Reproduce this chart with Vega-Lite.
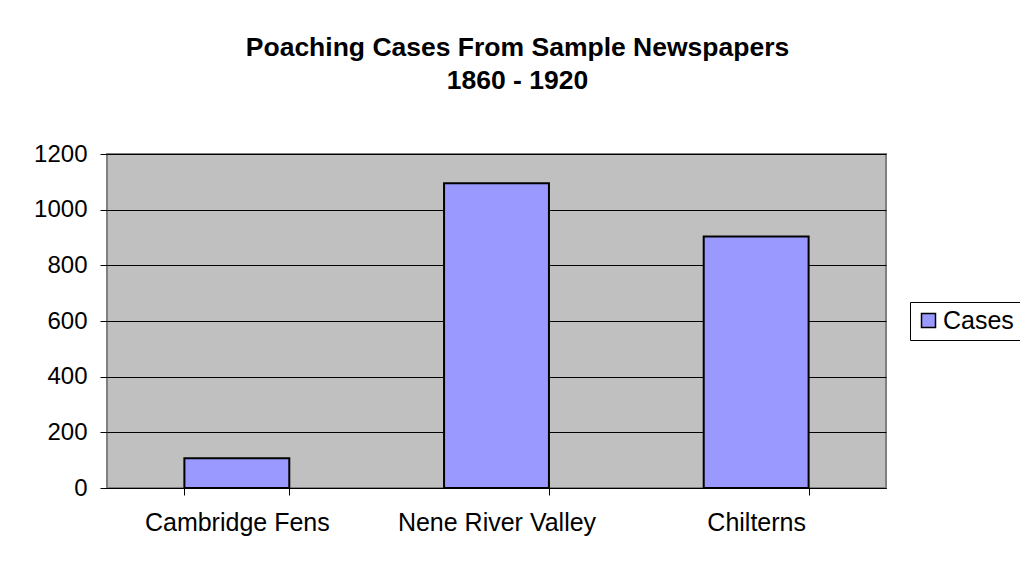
{
  "$schema": "https://vega.github.io/schema/vega-lite/v6.json",
  "autosize": "none",
  "width": 779,
  "height": 334,
  "padding": {"left": 107, "top": 154, "right": 134, "bottom": 74},
  "background": "white",
  "title": {
    "text": ["Poaching Cases From Sample Newspapers", "1860 - 1920"],
    "font": "Liberation Sans",
    "fontSize": 26.5,
    "fontWeight": "bold",
    "color": "black",
    "lineHeight": 33,
    "anchor": "middle",
    "dx": 21,
    "offset": 48
  },
  "data": {
    "values": [
      {"region": "Cambridge Fens", "cases": 107, "series": "Cases"},
      {"region": "Nene River Valley", "cases": 1095, "series": "Cases"},
      {"region": "Chilterns", "cases": 904, "series": "Cases"}
    ]
  },
  "mark": {"type": "bar", "stroke": "black", "strokeWidth": 2},
  "encoding": {
    "x": {
      "field": "region",
      "type": "nominal",
      "sort": null,
      "title": null,
      "scale": {"paddingInner": 0.596, "paddingOuter": 0.298},
      "axis": {
        "labelAngle": 0,
        "labelLimit": 0,
        "tickBand": "extent",
        "tickSize": 7,
        "tickColor": "black",
        "domainColor": "black",
        "labelPadding": 15,
        "labelFont": "Liberation Sans",
        "labelFontSize": 25,
        "labelColor": "black",
        "grid": false
      }
    },
    "y": {
      "field": "cases",
      "type": "quantitative",
      "title": null,
      "scale": {"domain": [0, 1200], "nice": false},
      "axis": {
        "values": [0, 200, 400, 600, 800, 1000, 1200],
        "format": "d",
        "tickSize": 7,
        "tickColor": "black",
        "domain": false,
        "grid": true,
        "gridColor": "black",
        "gridOpacity": 1,
        "gridWidth": 1,
        "labelPadding": 13,
        "labelFont": "Liberation Sans",
        "labelFontSize": 24,
        "labelColor": "black"
      }
    },
    "color": {
      "field": "series",
      "type": "nominal",
      "scale": {"range": ["#9999FF"]},
      "legend": {
        "title": null,
        "orient": "none",
        "legendX": 803,
        "legendY": 148,
        "strokeColor": "black",
        "padding": 6,
        "symbolType": "square",
        "symbolSize": 196,
        "symbolStrokeColor": "black",
        "symbolStrokeWidth": 1.5,
        "symbolFillColor": "#9999FF",
        "labelFont": "Liberation Sans",
        "labelFontSize": 25,
        "labelColor": "black",
        "labelOffset": 2,
        "labelLimit": 0
      }
    }
  },
  "config": {
    "view": {"fill": "#C0C0C0", "stroke": "#808080", "strokeWidth": 2}
  }
}
